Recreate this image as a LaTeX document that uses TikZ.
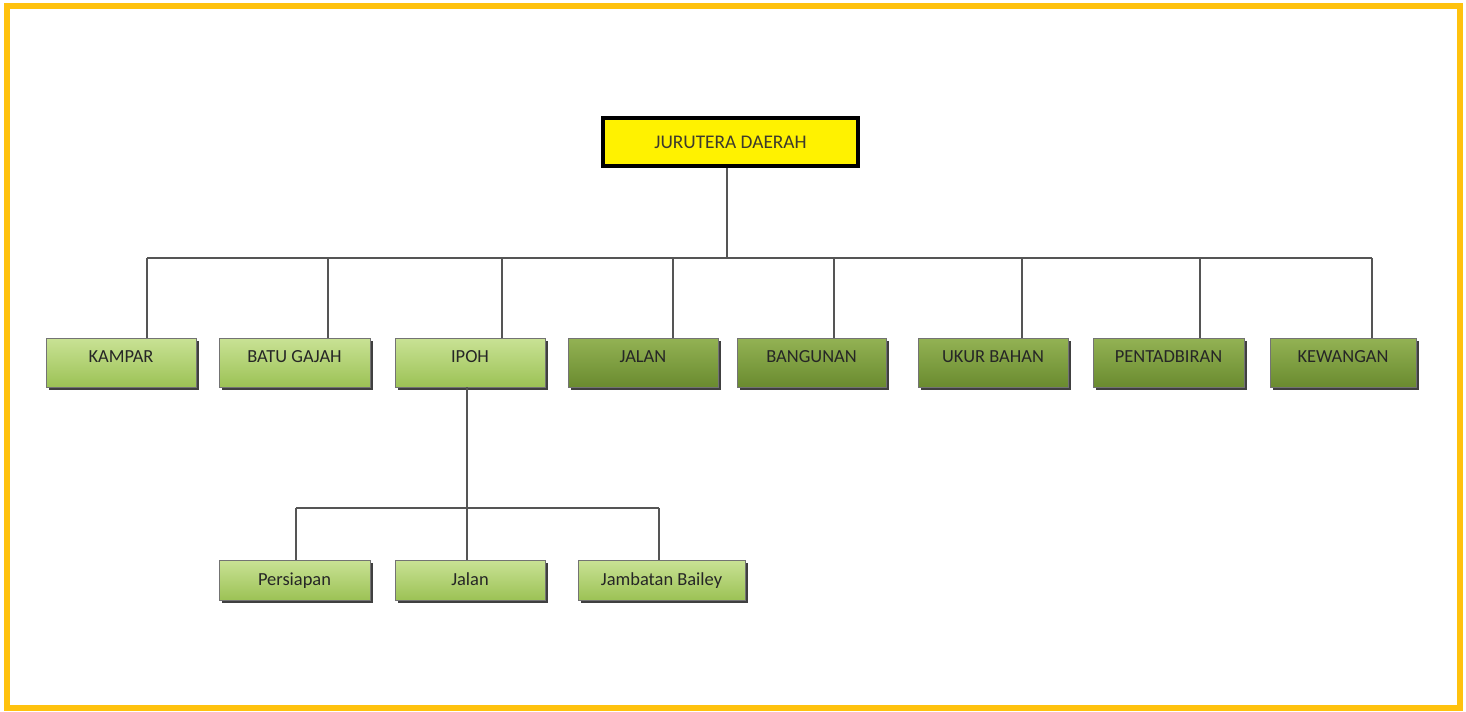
\documentclass[tikz,border=0pt]{standalone}
\usepackage{fontspec}
\setmainfont{Carlito}
\usetikzlibrary{shadows}
\definecolor{frameyellow}{HTML}{FFC20E}
\definecolor{headyellow}{HTML}{FFF200}
\definecolor{lightgreenA}{HTML}{C9E295}
\definecolor{lightgreenB}{HTML}{9CC255}
\definecolor{darkgreenA}{HTML}{93B254}
\definecolor{darkgreenB}{HTML}{6A8B2F}
\definecolor{linegrey}{HTML}{555555}
\tikzset{
  unit/.style={draw=black!55, line width=0.4pt, minimum height=0.98cm,
    font=\fontsize{10.5}{12}\selectfont, text=black!85, inner sep=2pt,
    text height=1.6ex, text depth=1.6ex,
    drop shadow={shadow xshift=1.6pt, shadow yshift=-1.6pt, fill=black!75, opacity=1}},
  lightunit/.style={unit, top color=lightgreenA, bottom color=lightgreenB},
  darkunit/.style={unit, top color=darkgreenA, bottom color=darkgreenB},
  subunit/.style={lightunit, minimum height=0.8cm, text height=1.6ex, text depth=0.4ex},
  headbox/.style={draw=black, line width=1.8pt, fill=headyellow, minimum width=5.1cm,
    minimum height=0.96cm, font=\fontsize{11}{13}\selectfont, text=black!75!olive,
    drop shadow={shadow xshift=1.4pt, shadow yshift=-1.4pt, fill=black!45, opacity=1}},
  link/.style={draw=linegrey, line width=0.8pt}
}
\begin{document}
\begin{tikzpicture}[x=0.02cm, y=-0.02cm]
    % bingkai
    \useasboundingbox (0,0) rectangle (1466,711);
    \fill[white] (7,6) rectangle (1460,708);
    \draw[frameyellow, line width=3.4pt] (7,6) rectangle (1460,708);

    % ketua
    \node[headbox] (top) at (730.5,142) {JURUTERA DAERAH};

    % unit peringkat kedua
    \node[lightunit, minimum width=3.00cm] (kampar) at (121,362.5) {KAMPAR};
    \node[lightunit, minimum width=3.02cm] (batugajah) at (294.5,362.5) {BATU GAJAH};
    \node[lightunit, minimum width=3.00cm] (ipoh) at (470,362.5) {IPOH};
    \node[darkunit, minimum width=3.00cm] (jalan) at (643,362.5) {JALAN};
    \node[darkunit, minimum width=2.98cm] (bangunan) at (811.5,362.5) {BANGUNAN};
    \node[darkunit, minimum width=3.00cm] (ukurbahan) at (993,362.5) {UKUR BAHAN};
    \node[darkunit, minimum width=3.02cm] (pentadbiran) at (1168.5,362.5) {PENTADBIRAN};
    \node[darkunit, minimum width=2.92cm] (kewangan) at (1343,362.5) {KEWANGAN};

    % unit bawah IPOH
    \node[subunit, minimum width=3.02cm] (persiapan) at (294.5,580) {Persiapan};
    \node[subunit, minimum width=3.00cm] (jalanipoh) at (470,580) {Jalan};
    \node[subunit, minimum width=3.34cm] (jambatan) at (661.5,580) {Jambatan Bailey};

    % garisan
    \coordinate (bar) at (727,258);
    \draw[link] (top.south -| bar) -- (bar);
    \foreach \n/\dx in {kampar/26, batugajah/33.5, ipoh/32, jalan/30,
                        bangunan/22.5, ukurbahan/29, pentadbiran/31.5, kewangan/29} {
        \path ([shift={(\dx,0)}]\n.north) coordinate (d-\n);
        \draw[link] (d-\n) -- (d-\n |- bar);
    }
    \draw[link] (d-kampar |- bar) -- (d-kewangan |- bar);

    \coordinate (bar2) at (467,508);
    \draw[link] (ipoh.south -| bar2) -- (bar2);
    \foreach \n/\dx in {persiapan/1.5, jalanipoh/-3, jambatan/-2.5} {
        \path ([shift={(\dx,0)}]\n.north) coordinate (e-\n);
        \draw[link] (e-\n) -- (e-\n |- bar2);
    }
    \draw[link] (e-persiapan |- bar2) -- (e-jambatan |- bar2);
\end{tikzpicture}
\end{document}
